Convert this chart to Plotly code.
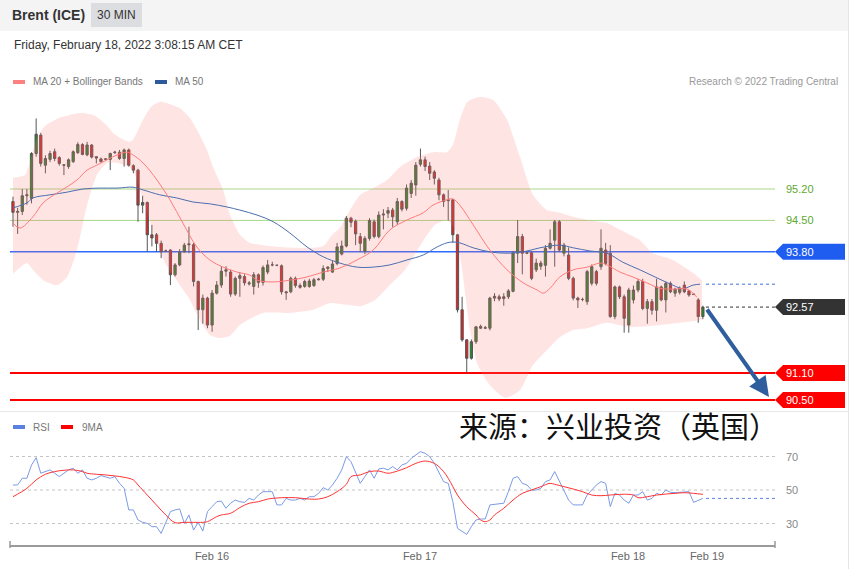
import plotly.graph_objects as go

W, H = 859, 569

# ---------------- data ----------------
opens = [94.92, 94.68, 94.70, 95.05, 94.99, 95.99, 96.40, 95.73, 95.86, 96.03,
         95.90, 95.74, 95.70, 95.81, 96.01, 96.19, 95.96, 96.18, 95.92, 95.87,
         95.86, 95.86, 96.01, 96.02, 95.88, 96.07, 95.72, 95.62, 94.84, 94.90,
         94.18, 94.18, 93.99, 93.82, 93.84, 93.29, 93.51, 93.80, 93.98, 93.96,
         93.14, 92.51, 92.77, 92.17, 92.88, 93.06, 93.37, 93.35, 92.86, 93.21,
         93.25, 93.11, 93.03, 93.29, 93.12, 93.35, 93.51, 93.50, 93.49, 92.91,
         92.91, 93.21, 93.01, 93.03, 93.03, 93.05, 93.18, 93.19, 93.43, 93.35,
         93.54, 93.75, 93.93, 94.55, 94.48, 94.14, 93.81, 94.10, 94.47, 94.14,
         94.62, 94.66, 94.73, 94.47, 94.92, 94.77, 95.10, 95.29, 95.75, 95.85,
         95.71, 95.58, 95.40, 95.07, 94.94, 94.96, 94.18, 92.51, 91.84, 91.43,
         91.80, 92.14, 92.10, 92.10, 92.77, 92.80, 92.76, 92.80, 92.92, 93.77,
         94.14, 93.78, 93.78, 93.40, 93.48, 93.50, 93.88, 94.06, 94.47, 93.77,
         93.73, 93.21, 92.77, 92.74, 92.69, 93.10, 93.36, 93.47, 93.84, 93.77,
         92.36, 93.02, 92.80, 92.17, 92.73, 92.95, 93.14, 92.54, 92.69, 92.50,
         93.02, 92.73, 93.10, 92.88, 92.90, 93.06, 92.93, 92.86, 92.73, 92.36]
highs = [95.03, 94.78, 95.20, 95.20, 96.02, 96.77, 96.45, 95.95, 96.05, 96.10,
         95.93, 95.75, 95.88, 96.06, 96.24, 96.22, 96.25, 96.20, 95.93, 95.90,
         95.88, 96.01, 96.05, 96.07, 96.10, 96.10, 95.75, 95.65, 95.05, 94.92,
         94.40, 94.22, 94.05, 93.85, 93.86, 93.55, 93.86, 94.00, 94.36, 94.00,
         93.16, 92.85, 92.80, 92.95, 93.15, 93.48, 93.48, 93.40, 93.25, 93.35,
         93.30, 93.15, 93.35, 93.32, 93.50, 93.62, 93.58, 93.52, 93.52, 92.93,
         93.25, 93.25, 93.10, 93.18, 93.20, 93.22, 93.22, 93.50, 93.48, 93.60,
         94.00, 94.05, 94.60, 94.58, 94.52, 94.22, 94.15, 94.55, 94.52, 94.70,
         94.75, 94.80, 94.78, 95.00, 94.95, 95.30, 95.40, 95.80, 96.10, 95.92,
         95.80, 95.62, 95.45, 95.10, 95.18, 94.98, 94.20, 92.80, 91.86, 91.85,
         92.15, 92.18, 92.15, 92.80, 92.88, 92.85, 92.88, 92.97, 93.82, 94.51,
         94.20, 93.80, 93.82, 93.65, 93.60, 93.95, 94.30, 94.51, 94.51, 94.00,
         93.90, 93.25, 92.80, 92.78, 93.40, 93.52, 93.40, 94.30, 94.00, 93.95,
         93.05, 93.05, 92.85, 93.00, 93.05, 93.20, 93.20, 92.75, 92.75, 93.20,
         93.05, 93.14, 93.14, 93.00, 93.03, 93.14, 92.95, 92.88, 92.77, 92.60]
lows = [94.36, 94.20, 94.62, 94.85, 94.88, 95.92, 95.70, 95.55, 95.80, 95.82,
        95.72, 95.51, 95.65, 95.78, 95.98, 95.95, 95.93, 95.88, 95.77, 95.79,
        95.84, 95.62, 95.98, 95.85, 95.70, 95.70, 95.55, 94.47, 94.66, 93.80,
        93.92, 93.80, 93.66, 93.80, 93.06, 93.25, 93.48, 93.78, 93.77, 93.03,
        92.06, 92.20, 92.10, 92.02, 92.85, 93.00, 93.25, 92.80, 92.82, 92.80,
        93.05, 93.05, 92.85, 93.00, 93.05, 93.30, 93.48, 93.48, 92.85, 92.73,
        92.88, 93.00, 92.98, 93.00, 93.00, 93.02, 93.16, 93.15, 93.35, 93.33,
        93.50, 93.72, 93.90, 94.35, 93.95, 93.80, 93.75, 94.05, 94.10, 94.10,
        94.30, 94.55, 94.35, 94.40, 94.70, 94.72, 95.00, 95.05, 95.70, 95.60,
        95.40, 95.30, 94.95, 94.80, 94.50, 94.00, 92.45, 91.80, 91.10, 91.40,
        91.75, 92.08, 92.08, 92.05, 92.70, 92.70, 92.60, 92.75, 92.90, 93.55,
        93.30, 93.75, 93.17, 93.35, 93.40, 93.25, 93.85, 93.47, 93.80, 93.70,
        93.17, 92.72, 92.55, 92.70, 92.62, 93.05, 93.05, 93.40, 93.50, 92.33,
        92.30, 92.75, 92.00, 92.00, 92.65, 92.90, 92.50, 92.20, 92.40, 92.25,
        92.70, 92.45, 92.88, 92.80, 92.85, 92.88, 92.80, 92.84, 92.22, 92.30]
closes = [94.68, 94.70, 95.05, 95.07, 95.99, 96.42, 95.77, 95.88, 95.99, 95.88,
          95.77, 95.73, 95.85, 96.03, 96.19, 95.97, 96.18, 95.91, 95.89, 95.81,
          95.87, 95.99, 96.02, 95.88, 96.07, 95.73, 95.62, 94.84, 94.90, 94.18,
          94.11, 93.99, 93.80, 93.82, 93.29, 93.51, 93.80, 93.95, 93.96, 93.14,
          92.51, 92.77, 92.17, 92.88, 93.06, 93.37, 93.40, 92.86, 93.21, 93.27,
          93.11, 93.09, 93.29, 93.12, 93.45, 93.51, 93.51, 93.50, 92.91, 92.89,
          93.21, 93.05, 93.05, 93.14, 93.15, 93.18, 93.19, 93.43, 93.46, 93.53,
          93.91, 93.93, 94.55, 94.46, 94.20, 93.99, 94.10, 94.50, 94.14, 94.62,
          94.64, 94.72, 94.58, 94.92, 94.75, 95.22, 95.33, 95.73, 95.85, 95.70,
          95.55, 95.44, 95.07, 94.92, 94.96, 94.18, 92.51, 91.84, 91.43, 91.80,
          92.13, 92.10, 92.11, 92.77, 92.81, 92.75, 92.80, 92.93, 93.78, 94.14,
          93.77, 93.77, 93.21, 93.55, 93.55, 93.88, 93.99, 94.47, 93.84, 93.95,
          93.21, 92.77, 92.73, 92.74, 93.36, 93.47, 93.10, 93.88, 93.54, 92.36,
          93.02, 92.80, 92.32, 92.95, 92.95, 93.14, 92.54, 92.69, 92.50, 93.02,
          92.73, 93.10, 92.91, 92.97, 92.99, 92.91, 92.84, 92.85, 92.36, 92.57]

bb_upper_x = [0, 2.6, 5, 6.9, 9.9, 12.3, 14.9, 17.7, 20.1, 21.6, 23.1, 25.1, 25.9, 27.4,
              28.9, 30, 31.7, 33.9, 36.1, 38.2, 40, 41.9, 43.2, 45.4, 46.9, 49, 51.2, 54,
              57.7, 61.3, 64.8, 67, 69.1, 70.6, 72.8, 75, 77.8, 80.8, 83.6, 87.3, 90.7,
              93.7, 95, 96.5, 98.1, 100.9, 103.7, 106.7, 109.5, 112.3, 115.3, 118.1, 121,
              124, 128.3, 131.1, 135.4, 138.2, 142.5, 146.9, 148.8]
bb_upper = [95.45, 95.51, 96.29, 96.60, 96.78, 96.85, 96.89, 96.83, 96.63, 96.45, 96.34,
            96.25, 96.29, 96.60, 96.89, 97.05, 97.14, 97.09, 97.00, 96.78, 96.47, 96.07,
            95.69, 95.18, 94.62, 94.18, 94.00, 93.95, 93.91, 93.89, 93.89, 93.93, 94.20,
            94.33, 94.73, 95.07, 95.22, 95.40, 95.69, 95.91, 96.02, 96.02, 96.18, 96.74,
            97.14, 97.25, 97.18, 96.74, 95.91, 95.07, 94.73, 94.67, 94.58, 94.51, 94.44,
            94.29, 94.06, 93.77, 93.62, 93.33, 93.17]
bb_lower_x = [0, 3, 4.3, 6.5, 9.5, 11.7, 13.8, 16, 18.1, 20.3, 22.5, 24.2, 25.9, 27.4,
              28.5, 30.7, 32.8, 35.6, 38.2, 40.4, 42.5, 44.7, 46.9, 49, 54, 59.8, 64.8,
              68.5, 72.1, 75, 78.2, 81, 84.7, 88.3, 91.1, 93.7, 95.5, 97, 98.7, 100.4,
              103, 106.3, 109.5, 112.3, 115.3, 118.1, 121, 124, 128.3, 132.6, 135.4,
              139.7, 144.1, 148.8]
bb_lower = [93.31, 93.55, 93.40, 93.17, 93.06, 93.24, 93.84, 94.84, 95.51, 95.78, 95.78,
            95.73, 95.62, 95.18, 94.84, 94.11, 93.57, 93.13, 92.73, 92.28, 91.95, 91.88,
            91.93, 92.17, 92.44, 92.44, 92.51, 92.66, 92.62, 92.59, 92.73, 93.02, 93.40,
            94.00, 94.40, 94.51, 94.29, 93.40, 92.06, 91.28, 90.83, 90.55, 90.72, 91.28,
            91.61, 91.90, 92.06, 92.10, 92.22, 92.13, 92.13, 92.17, 92.22, 92.28]
ma20_x = [0, 1.5, 4.3, 6.5, 9.5, 11.7, 13.8, 16, 18.1, 20.3, 22.5, 24.6, 25.9, 28.1, 31.1,
          33.9, 36.7, 39.7, 42.5, 45.4, 48.4, 51.2, 52.7, 56.2, 59.8, 63.5, 67, 70.6, 74.3,
          77.8, 81.4, 85.1, 88.6, 90.7, 93.7, 95, 96.5, 99.4, 103, 106.7, 110.2, 113.2,
          114.5, 116, 118.1, 121, 124, 126.8, 128.3, 131.1, 133.9, 136.9, 139.7, 142.5,
          145.6, 147.7]
ma20 = [94.44, 94.33, 94.58, 94.89, 95.11, 95.25, 95.40, 95.62, 95.73, 95.85, 95.96,
        96.02, 95.96, 95.78, 95.40, 94.96, 94.44, 93.91, 93.62, 93.46, 93.35, 93.28,
        93.17, 93.13, 93.17, 93.24, 93.35, 93.44, 93.62, 93.84, 94.29, 94.51, 94.67,
        94.84, 94.96, 94.98, 94.84, 94.40, 93.84, 93.40, 93.11, 92.95, 92.88, 92.99,
        93.24, 93.40, 93.46, 93.55, 93.51, 93.35, 93.24, 93.11, 92.99, 92.97, 92.97,
        92.79]
ma50_x = [0, 3, 4.3, 8, 11.7, 15.1, 18.8, 22.5, 25.9, 28.1, 31.7, 35.4, 38.9, 42.5, 46.2,
          49, 52.7, 56.2, 59.8, 63.5, 67, 70.6, 74.3, 77.8, 81.4, 85.1, 88.6, 91.6, 93.7,
          95, 96.5, 99.4, 103, 106.7, 110.2, 113.8, 118.1, 121, 124.6, 128.3, 131.7,
          135.4, 139.1, 142.5, 144.7, 146.9, 148.4]
ma50 = [94.78, 94.89, 95.00, 95.07, 95.13, 95.20, 95.22, 95.22, 95.24, 95.18, 95.07,
        95.00, 94.91, 94.87, 94.80, 94.73, 94.62, 94.47, 94.22, 93.91, 93.69, 93.55,
        93.46, 93.46, 93.51, 93.62, 93.73, 93.91, 94.00, 94.02, 94.00, 93.89, 93.80,
        93.77, 93.80, 93.89, 93.95, 93.89, 93.82, 93.77, 93.57, 93.40, 93.22, 93.06,
        92.98, 93.06, 93.08]

rsi = [53, 53, 57, 57, 64.9, 69.3, 60, 61, 62, 60,
       58, 60, 62, 63, 60, 62, 57, 56, 57, 58.6,
       58, 57, 58, 54, 51, 38.1, 38.1, 32.1, 30.7, 30.1,
       28.1, 28.1, 24.1, 31.1, 37.1, 38.1, 38.7, 30.1, 35.1, 26.1,
       30.7, 25.5, 37.1, 40.1, 43, 43.4, 39.1, 42.1, 44, 43,
       42.6, 45, 44, 47, 49, 49, 49, 41.1, 41.1, 45,
       44, 44, 45, 44, 46, 46, 48, 51.4, 50, 53,
       57, 62, 69.9, 66.9, 60, 54, 58, 62, 57, 62.6,
       63, 62, 64, 62, 65, 65.9, 68.9, 70.9, 72.9, 71.9,
       69.9, 65.9, 60, 55, 54, 43, 27.1, 25.1, 23.5, 28.1,
       32.1, 32.7, 32.7, 41.1, 41.5, 42.1, 42.1, 49, 57, 58,
       54, 53, 50, 50, 51, 55, 56, 61, 55, 50,
       44, 41.1, 41.1, 41.1, 47, 50, 53, 55, 54, 40.1,
       48, 47, 44, 42.1, 47, 47, 49, 44, 45, 48,
       47, 50, 48.6, 48.4, 48.6, 49, 49, 42.6, 44, 45]
rsi_ma9_x = [0, 3, 5, 7, 9, 11, 13, 15, 16, 18, 20, 22, 24, 26, 27, 29, 31, 33, 35, 37,
             39, 41, 42, 44, 45, 47, 49, 51, 53, 55, 58, 61, 64, 66, 68, 70, 72, 73, 75,
             77, 79, 81, 83, 85, 87, 89, 91, 92, 93, 94, 95, 96, 98, 100, 101, 102, 103,
             104, 106, 108, 110, 112, 114, 116, 117, 119, 121, 123, 125, 127, 129, 131,
             133, 134, 135, 137, 139, 141, 143, 145, 147, 149]
rsi_ma9 = [46.0, 51.0, 56.0, 59.4, 61.0, 61.8, 62.0, 61.0, 60.0, 59.4, 59.0, 58.4, 57.6,
           56.0, 53.0, 47.0, 41.0, 35.1, 30.5, 30.7, 30.7, 30.7, 31.1, 34.1, 35.1, 36.1,
           39.5, 42.1, 43.0, 44.6, 45.4, 45.4, 44.6, 44.6, 46.0, 49.0, 53.4, 58.0, 59.0,
           61.0, 61.3, 60.0, 61.3, 63.3, 65.9, 67.3, 65.9, 63.9, 61.0, 57.0, 52.0, 47.0,
           40.0, 35.1, 32.1, 31.1, 32.1, 35.1, 39.1, 44.0, 48.0, 50.0, 52.0, 54.0, 53.4,
           52.0, 50.6, 49.0, 47.0, 46.6, 47.0, 47.4, 47.4, 47.0, 45.4, 46.0, 47.0, 47.6,
           48.0, 48.4, 48.0, 47.4]

levels_green = [95.20, 94.50]
level_blue = 93.80
levels_red = [91.10, 90.50]
last_price = 92.57
ma50_last = 93.08
rsi_last = 45.0
rsi_levels = [70, 50, 30]
tick_labels = ["Feb 16", "Feb 17", "Feb 18", "Feb 19"]

# ---------------- pixel calibration (layout only) ----------------
def price_at(yp):
    return 95.2 - (yp - 189) / 44.9

def ypix_of_price(p):
    return 189 + (95.2 - p) * 44.9

def rsi_at(yp):
    return 50 + (490 - yp) / 1.675

def ypix_of_rsi(v):
    return 490 - (v - 50) * 1.675

def idx_at(xp):
    return (xp - 13) / 4.63

def fx(x):
    return x / W

def fy(y):
    return 1 - y / H

tick_pos = [idx_at(212), idx_at(420), idx_at(628), idx_at(707)]
idx = list(range(len(opens)))

FONT = "Liberation Sans, Arial, sans-serif"

fig = go.Figure()

# Bollinger band
fig.add_trace(go.Scatter(x=bb_lower_x, y=bb_lower, mode="lines", line=dict(width=0, shape="spline", smoothing=0.6),
                         hoverinfo="skip", showlegend=False))
fig.add_trace(go.Scatter(x=bb_upper_x, y=bb_upper, mode="lines", line=dict(width=0, shape="spline", smoothing=0.6),
                         fill="tonexty", fillcolor="rgba(255,120,120,0.2)", hoverinfo="skip", showlegend=False))
# MA lines
fig.add_trace(go.Scatter(x=ma50_x, y=ma50, mode="lines", line=dict(color="#4a6fb0", width=1, shape="spline"),
                         hoverinfo="skip", showlegend=False))
fig.add_trace(go.Scatter(x=ma20_x, y=ma20, mode="lines", line=dict(color="#ff7b7b", width=1, shape="spline"),
                         hoverinfo="skip", showlegend=False))
# Candles
fig.add_trace(go.Candlestick(
    x=idx, open=opens, high=highs, low=lows, close=closes,
    increasing=dict(fillcolor="#1f8a1f", line=dict(color="#555555", width=1)),
    decreasing=dict(fillcolor="#ee1c1c", line=dict(color="#555555", width=1)),
    whiskerwidth=0, hoverinfo="skip", showlegend=False))

# RSI panel
fig.add_trace(go.Scatter(x=idx, y=rsi, mode="lines", line=dict(color="#7b9be6", width=1),
                         xaxis="x", yaxis="y2", hoverinfo="skip", showlegend=False))
fig.add_trace(go.Scatter(x=rsi_ma9_x, y=rsi_ma9, mode="lines", line=dict(color="#ff3333", width=1, shape="spline"),
                         xaxis="x", yaxis="y2", hoverinfo="skip", showlegend=False))

shapes = []
annotations = []

# header
shapes.append(dict(type="rect", xref="paper", yref="paper", x0=fx(0), x1=fx(848), y0=fy(31), y1=fy(0),
                   fillcolor="#f4f4f4", line=dict(width=0), layer="below"))
shapes.append(dict(type="rect", xref="paper", yref="paper", x0=fx(91), x1=fx(142), y0=fy(27), y1=fy(3),
                   fillcolor="#dcdde0", line=dict(width=0), layer="below"))
annotations.append(dict(text="<b>Brent (ICE)</b>", x=fx(10), y=fy(15), xref="paper", yref="paper",
                        xanchor="left", yanchor="middle", showarrow=False, font=dict(size=14, color="#333", family=FONT)))
annotations.append(dict(text="30 MIN", x=fx(116.5), y=fy(15), xref="paper", yref="paper",
                        xanchor="center", yanchor="middle", showarrow=False, font=dict(size=12, color="#333", family=FONT)))
annotations.append(dict(text="Friday, February 18, 2022 3:08:15 AM CET", x=fx(12), y=fy(45), xref="paper", yref="paper",
                        xanchor="left", yanchor="middle", showarrow=False, font=dict(size=12, color="#333", family=FONT)))

# borders / separators
shapes.append(dict(type="line", xref="paper", yref="paper", x0=fx(848.5), x1=fx(848.5), y0=0, y1=1,
                   line=dict(color="#e4e4e4", width=1)))
shapes.append(dict(type="line", xref="paper", yref="paper", x0=0, x1=fx(848), y0=fy(411.5), y1=fy(411.5),
                   line=dict(color="#e8e8e8", width=1)))

# legends
def swatch(x0, yc, color):
    shapes.append(dict(type="rect", xref="paper", yref="paper", x0=fx(x0), x1=fx(x0 + 12), y0=fy(yc + 2), y1=fy(yc - 2),
                       fillcolor=color, line=dict(width=0)))

def small_text(t, x, yc, color="#777", size=10, anchor="left"):
    annotations.append(dict(text=t, x=fx(x), y=fy(yc), xref="paper", yref="paper", xanchor=anchor,
                            yanchor="middle", showarrow=False, font=dict(size=size, color=color, family=FONT)))

swatch(13, 82, "#ff8080")
small_text("MA 20 + Bollinger Bands", 31, 82)
swatch(155, 82, "#2e5a9c")
small_text("MA 50", 173, 82)
small_text("Research © 2022 Trading Central", 840, 82, color="#999", anchor="right")
swatch(13, 427, "#5b80e0")
small_text("RSI", 31, 427)
swatch(61, 427, "#ff0000")
small_text("9MA", 80, 427)

# level lines
for lv in levels_green:
    shapes.append(dict(type="line", xref="paper", yref="y", x0=fx(10), x1=fx(775), y0=lv, y1=lv,
                       line=dict(color="#a9d88a", width=1), layer="below"))
    small_text(f"{lv:.2f}", 784, ypix_of_price(lv), color="#5da82f", size=11)
shapes.append(dict(type="line", xref="paper", yref="y", x0=fx(10), x1=fx(775), y0=level_blue, y1=level_blue,
                   line=dict(color="#2f6bff", width=1.5), layer="below"))
for lv in levels_red:
    shapes.append(dict(type="line", xref="paper", yref="y", x0=fx(10), x1=fx(775), y0=lv, y1=lv,
                       line=dict(color="#ff0000", width=2), layer="below"))

# dotted extensions
shapes.append(dict(type="line", xref="paper", yref="y", x0=fx(706), x1=fx(775), y0=last_price, y1=last_price,
                   line=dict(color="#333", width=1, dash="dot")))
shapes.append(dict(type="line", xref="paper", yref="y", x0=fx(706), x1=fx(775), y0=ma50_last, y1=ma50_last,
                   line=dict(color="#3f6fd8", width=1, dash="dot")))

# tags
def tag(value, color):
    yc = ypix_of_price(value)
    h = 8
    path = (f"M {fx(775)},{fy(yc)} L {fx(783)},{fy(yc - h)} L {fx(845)},{fy(yc - h)} "
            f"L {fx(845)},{fy(yc + h)} L {fx(783)},{fy(yc + h)} Z")
    shapes.append(dict(type="path", xref="paper", yref="paper", path=path, fillcolor=color, line=dict(width=0)))
    small_text(f"{value:.2f}", 784, yc, color="#ffffff", size=11)

tag(level_blue, "#1f5cf0")
tag(last_price, "#333333")
for lv in levels_red:
    tag(lv, "#ff0000")

# RSI grid
for lv in rsi_levels:
    shapes.append(dict(type="line", xref="paper", yref="y2", x0=fx(10), x1=fx(775), y0=lv, y1=lv,
                       line=dict(color="#c4c4c4", width=1, dash="dot"), layer="below"))
    small_text(str(lv), 784, ypix_of_rsi(lv), color="#888", size=11)
shapes.append(dict(type="line", xref="paper", yref="y2", x0=fx(706), x1=fx(775), y0=rsi_last, y1=rsi_last,
                   line=dict(color="#5b80e0", width=1, dash="dot")))

# axis end ticks
for xe in (10, 775):
    shapes.append(dict(type="line", xref="paper", yref="paper", x0=fx(xe), x1=fx(xe), y0=fy(548), y1=fy(541),
                       line=dict(color="#999", width=1.5)))

# arrow
annotations.append(dict(x=fx(769), y=fy(397), xref="paper", yref="paper", ax=706 - 769, ay=308 - 397,
                        showarrow=True, arrowhead=2, arrowsize=1.0, arrowwidth=4, arrowcolor="#2e5e9e", text=""))

# Chinese source text
annotations.append(dict(text="来源：兴业投资（英国）", x=fx(457), y=fy(425), xref="paper", yref="paper",
                        xanchor="left", yanchor="middle", showarrow=False,
                        font=dict(size=29, color="#111", family="Noto Sans CJK SC")))

fig.update_layout(
    width=W, height=H, autosize=False,
    margin=dict(l=0, r=0, t=0, b=0, pad=0),
    paper_bgcolor="white", plot_bgcolor="rgba(0,0,0,0)",
    font=dict(family=FONT),
    showlegend=False,
    xaxis=dict(domain=[fx(10), fx(775)], range=[idx_at(10), idx_at(775)], anchor="y2",
               showgrid=False, zeroline=False, showline=True, linecolor="#9a9a9a", linewidth=1.5,
               tickvals=tick_pos, ticktext=tick_labels, ticks="", tickfont=dict(size=11, color="#666"),
               rangeslider=dict(visible=False), fixedrange=True),
    yaxis=dict(domain=[fy(410), fy(95)], range=[price_at(410), price_at(95)], visible=False, fixedrange=True),
    yaxis2=dict(domain=[fy(545), fy(440)], range=[rsi_at(545), rsi_at(440)], visible=False, fixedrange=True),
    shapes=shapes, annotations=annotations,
)

fig.write_html("out.html", config={"displayModeBar": False},
               post_script="document.body.style.margin='0';")
